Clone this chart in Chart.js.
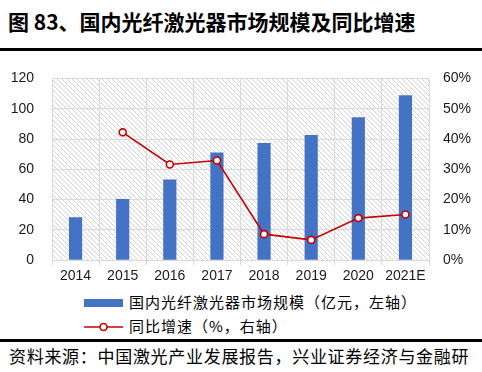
<!DOCTYPE html>
<html>
<head>
<meta charset="utf-8">
<script src="https://cdn.jsdelivr.net/npm/chart.js@4/dist/chart.umd.min.js"></script>
<style>
  body { margin: 0; width: 482px; height: 372px; background: #fff; position: relative; overflow: hidden;
         font-family: "Noto Sans CJK SC", sans-serif; color: #000; }
  .title { position: absolute; left: 8px; top: 8px; font-size: 21px; font-weight: bold; line-height: 26px; white-space: nowrap; }
  .rule { position: absolute; left: 0; width: 482px; height: 3px; background: #000; }
  .wrap { position: absolute; left: 0; top: 52px; width: 482px; height: 236px; }
  .legend { position: absolute; left: 84px; font-size: 15px; line-height: 20px; letter-spacing: 1px; white-space: nowrap; }
  .legend .item { position: relative; height: 24px; }
  .legend .txt { position: absolute; left: 45px; top: 0; }
  .source { position: absolute; left: 9px; top: 344px; font-size: 17px; line-height: 24px; letter-spacing: 0.7px; white-space: nowrap; }
</style>
</head>
<body>
<div class="title">图 83、国内光纤激光器市场规模及同比增速</div>
<div class="rule" style="top:48px"></div>
<div class="wrap"><canvas id="chart"></canvas></div>
<div class="legend" id="legend" style="top:292px"></div>
<div class="rule" style="top:339px"></div>
<div class="source">资料来源：中国激光产业发展报告，兴业证券经济与金融研</div>
<script>
// data
const years = ['2014', '2015', '2016', '2017', '2018', '2019', '2020', '2021E'];
const marketSize = [28.4, 40.4, 53.3, 71.1, 77.3, 82.7, 94.3, 108.8];   // 亿元
const growth = [null, 42.2, 31.6, 32.9, 8.6, 6.7, 13.9, 15.1];          // %
const leftTicks = [0, 20, 40, 60, 80, 100, 120];
const rightTicks = [0, 10, 20, 30, 40, 50, 60];
const barLabel = '国内光纤激光器市场规模（亿元，左轴）';
const lineLabel = '同比增速（%，右轴）';

const blue = '#4472c4';
const red = '#c80000';
const gridColor = '#d9d9d9';

// light diagonal hatch behind the plot
function makeHatch() {
  const c = document.createElement('canvas');
  c.width = 5; c.height = 5;
  const g = c.getContext('2d');
  g.fillStyle = '#fff';
  g.fillRect(0, 0, 5, 5);
  g.strokeStyle = '#d2d2d2';
  g.lineWidth = 1;
  g.beginPath();
  g.moveTo(-1, -1); g.lineTo(6, 6);
  g.moveTo(-1, 4); g.lineTo(1, 6);
  g.moveTo(4, -1); g.lineTo(6, 1);
  g.stroke();
  return c;
}

const hatchPlugin = {
  id: 'hatch',
  beforeDraw(chart) {
    const a = chart.chartArea, ctx = chart.ctx;
    ctx.save();
    ctx.fillStyle = ctx.createPattern(makeHatch(), 'repeat');
    ctx.fillRect(a.left, a.top, a.right - a.left, a.bottom - a.top);
    ctx.restore();
  }
};

const tickFont = { family: '"Liberation Sans", Arial, sans-serif', size: 14 };

const ctx = document.getElementById('chart').getContext('2d');
const chart = new Chart(ctx, {
  type: 'bar',
  data: {
    labels: years,
    datasets: [{
      type: 'line',
      label: lineLabel,
      data: growth,
      yAxisID: 'y1',
      borderColor: red,
      borderWidth: 1.6,
      pointRadius: 3.5,
      pointBorderWidth: 1.6,
      pointBackgroundColor: '#fff',
      pointBorderColor: red,
      tension: 0,
      spanGaps: false,
      order: 0
    }, {
      label: barLabel,
      data: marketSize,
      yAxisID: 'y',
      backgroundColor: blue,
      barPercentage: 0.28,
      categoryPercentage: 1,
      order: 1
    }]
  },
  options: {
    responsive: true,
    maintainAspectRatio: false,
    animation: false,
    layout: { padding: { top: 13, left: 0, right: 0, bottom: 0 } },
    plugins: { legend: { display: false }, tooltip: { enabled: false } },
    scales: {
      x: {
        grid: { color: gridColor, offset: true, tickLength: 5, drawTicks: true },
        border: { color: gridColor },
        ticks: { font: tickFont, color: '#1a1a1a', padding: 3, maxRotation: 0 }
      },
      y: {
        position: 'left',
        min: 0, max: 120,
        afterBuildTicks(s) { s.ticks = leftTicks.map(v => ({ value: v })); },
        afterFit(s) { s.width = 52; },
        grid: { color: gridColor, drawTicks: false },
        border: { display: false },
        ticks: { font: tickFont, color: '#1a1a1a', padding: 18 }
      },
      y1: {
        position: 'right',
        min: 0, max: 60,
        afterBuildTicks(s) { s.ticks = rightTicks.map(v => ({ value: v })); },
        afterFit(s) { s.width = 53; },
        grid: { display: false, drawTicks: false },
        border: { display: false },
        ticks: { font: tickFont, color: '#1a1a1a', padding: 14, callback: v => v + '%' }
      }
    }
  },
  plugins: [hatchPlugin]
});

// html legend, one item per row
const legend = document.getElementById('legend');
chart.data.datasets.slice().reverse().forEach(ds => {
  const item = document.createElement('div');
  item.className = 'item';
  let mark;
  if (ds.type === 'line') {
    mark = '<svg width="40" height="20" style="position:absolute;left:0;top:1px">' +
      '<line x1="0" y1="10" x2="39" y2="10" stroke="' + red + '" stroke-width="1.6"/>' +
      '<circle cx="19.5" cy="10" r="3.5" fill="#fff" stroke="' + red + '" stroke-width="1.6"/></svg>';
  } else {
    mark = '<div style="position:absolute;left:0;top:7px;width:39px;height:8px;background:' + blue + '"></div>';
  }
  item.innerHTML = mark + '<span class="txt">' + ds.label + '</span>';
  legend.appendChild(item);
});
</script>
</body>
</html>
